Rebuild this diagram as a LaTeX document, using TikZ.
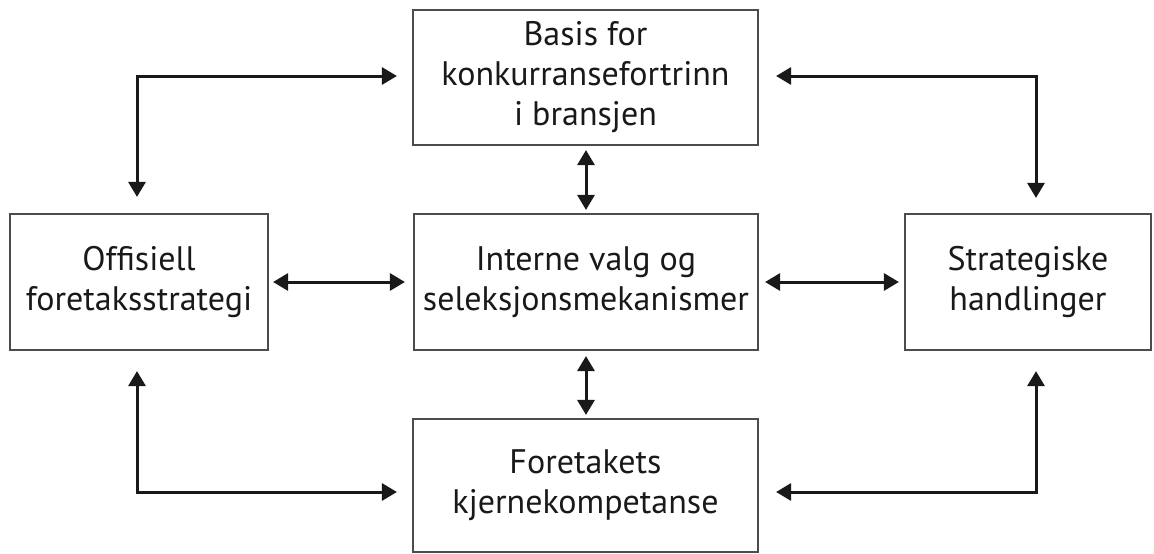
\documentclass[tikz,border=0pt]{standalone}
\usepackage{fontspec}
\setmainfont{PT Sans}
\usetikzlibrary{arrows.meta}
\begin{document}
\begin{tikzpicture}[x=1pt,y=-1pt,
  box/.style={draw=black!70, line width=2.2pt, fill=white, inner sep=0pt, align=center,
    font=\fontsize{34}{40}\selectfont, text=black!90},
  conn/.style={line width=3pt, draw=black!90, {Triangle[length=15pt,width=17pt]}-{Triangle[length=15pt,width=17pt]}}]
\fill[white] (0,0) rectangle (1154,554);
\useasboundingbox (0,0) rectangle (1154,554);
\node[box, minimum width=345pt, minimum height=135pt] (top) at (585.5,77.5) {Basis for\\konkurransefortrinn\\i bransjen};
\node[box, minimum width=258pt, minimum height=136pt] (left) at (139,282) {Offisiell\\foretaksstrategi};
\node[box, minimum width=344pt, minimum height=136pt] (mid) at (586,282) {Interne valg og\\seleksjonsmekanismer};
\node[box, minimum width=246pt, minimum height=136pt] (right) at (1028,282) {Strategiske\\handlinger};
\node[box, minimum width=345pt, minimum height=133pt] (bottom) at (585.5,485.5) {Foretakets\\kjernekompetanse};
\coordinate (tl) at (137,76);
\coordinate (tr) at (1036,76);
\coordinate (bl) at (137,492);
\coordinate (br) at (1036,492);
\draw[conn, shorten <=16pt, shorten >=15pt] (left.north -| tl) -- (tl) -- (tl -| top.west);
\draw[conn, shorten <=17pt, shorten >=15pt] (tr -| top.east) -- (tr) -- (tr |- right.north);
\draw[conn, shorten <=20pt, shorten >=15pt] (left.south -| bl) -- (bl) -- (bl -| bottom.west);
\draw[conn, shorten <=17pt, shorten >=20pt] (br -| bottom.east) -- (br) -- (br |- right.south);
\draw[conn, shorten <=4pt, shorten >=3pt] (top.south -| 586,0) -- (mid.north -| 586,0);
\draw[conn, shorten <=5pt, shorten >=3pt] (mid.south -| 586,0) -- (bottom.north -| 586,0);
\draw[conn, shorten <=4pt, shorten >=8pt] (left.east) -- (mid.west);
\draw[conn, shorten <=6pt, shorten >=5pt] (mid.east) -- (right.west);
\end{tikzpicture}
\end{document}
